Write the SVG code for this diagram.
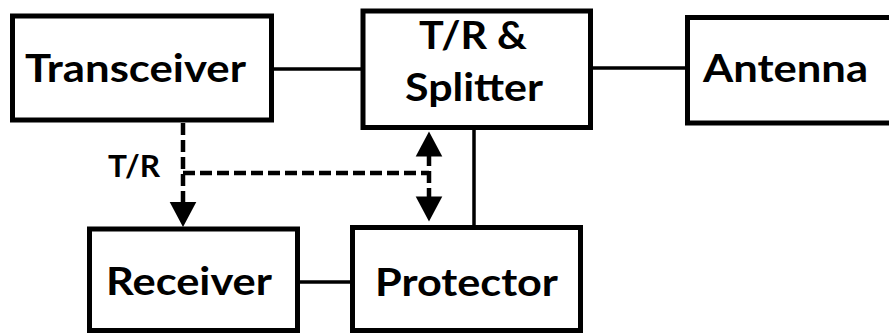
<svg xmlns="http://www.w3.org/2000/svg" xmlns:xlink="http://www.w3.org/1999/xlink" width="889" height="333" viewBox="0 0 889 333">
<style>
.box{fill:#fff;stroke:#000;stroke-width:5}
.lbl{font-family:"Lato","Open Sans","Liberation Sans",sans-serif;font-weight:bold;font-size:39px;fill:#000}
.small{font-size:31px}
.wire{stroke:#000;stroke-width:3.5;fill:none}
.dash{stroke:#000;stroke-width:4.5;fill:none;stroke-dasharray:12 5}
</style>
<defs>
<path id="ah" d="M-13.3,-25 L13.3,-25 L0,0 Z" fill="#000"/>
</defs>
<rect width="889" height="333" fill="#fff"/>
<g id="connectors">
<line class="wire" x1="274" y1="69" x2="361" y2="69"/>
<line class="wire" x1="593" y1="68" x2="685" y2="68"/>
<line class="wire" x1="300" y1="282" x2="350" y2="282"/>
<line class="wire" x1="474" y1="130" x2="474" y2="226"/>
<path class="dash" d="M183,123 V204"/>
<path class="dash" d="M183,173 H429"/>
<path class="dash" d="M429,154 V197"/>
<use xlink:href="#ah" transform="translate(183,227)"/>
<use xlink:href="#ah" transform="translate(429,131.5) rotate(180)"/>
<use xlink:href="#ah" transform="translate(429,221.5)"/>
<text class="lbl small" x="108" y="177" textLength="52" lengthAdjust="spacingAndGlyphs">T/R</text>
</g>
<g id="transceiver">
<rect class="box" x="12.5" y="16" width="259" height="104"/>
<text class="lbl" x="25" y="82" textLength="221" lengthAdjust="spacingAndGlyphs">Transceiver</text>
</g>
<g id="splitter">
<rect class="box" x="363" y="11" width="227.5" height="116.5"/>
<text class="lbl" x="419" y="49" textLength="108" lengthAdjust="spacingAndGlyphs">T/R &amp;</text>
<text class="lbl" x="405" y="101" textLength="138" lengthAdjust="spacingAndGlyphs">Splitter</text>
</g>
<g id="antenna">
<rect class="box" x="687.5" y="17.5" width="250" height="105.5"/>
<text class="lbl" x="703" y="82" textLength="165" lengthAdjust="spacingAndGlyphs">Antenna</text>
</g>
<g id="receiver">
<rect class="box" x="89.5" y="229" width="208" height="101.5"/>
<text class="lbl" x="106" y="295" textLength="166" lengthAdjust="spacingAndGlyphs">Receiver</text>
</g>
<g id="protector">
<rect class="box" x="352.5" y="227.5" width="228" height="103"/>
<text class="lbl" x="375" y="296" textLength="183" lengthAdjust="spacingAndGlyphs">Protector</text>
</g>
</svg>
